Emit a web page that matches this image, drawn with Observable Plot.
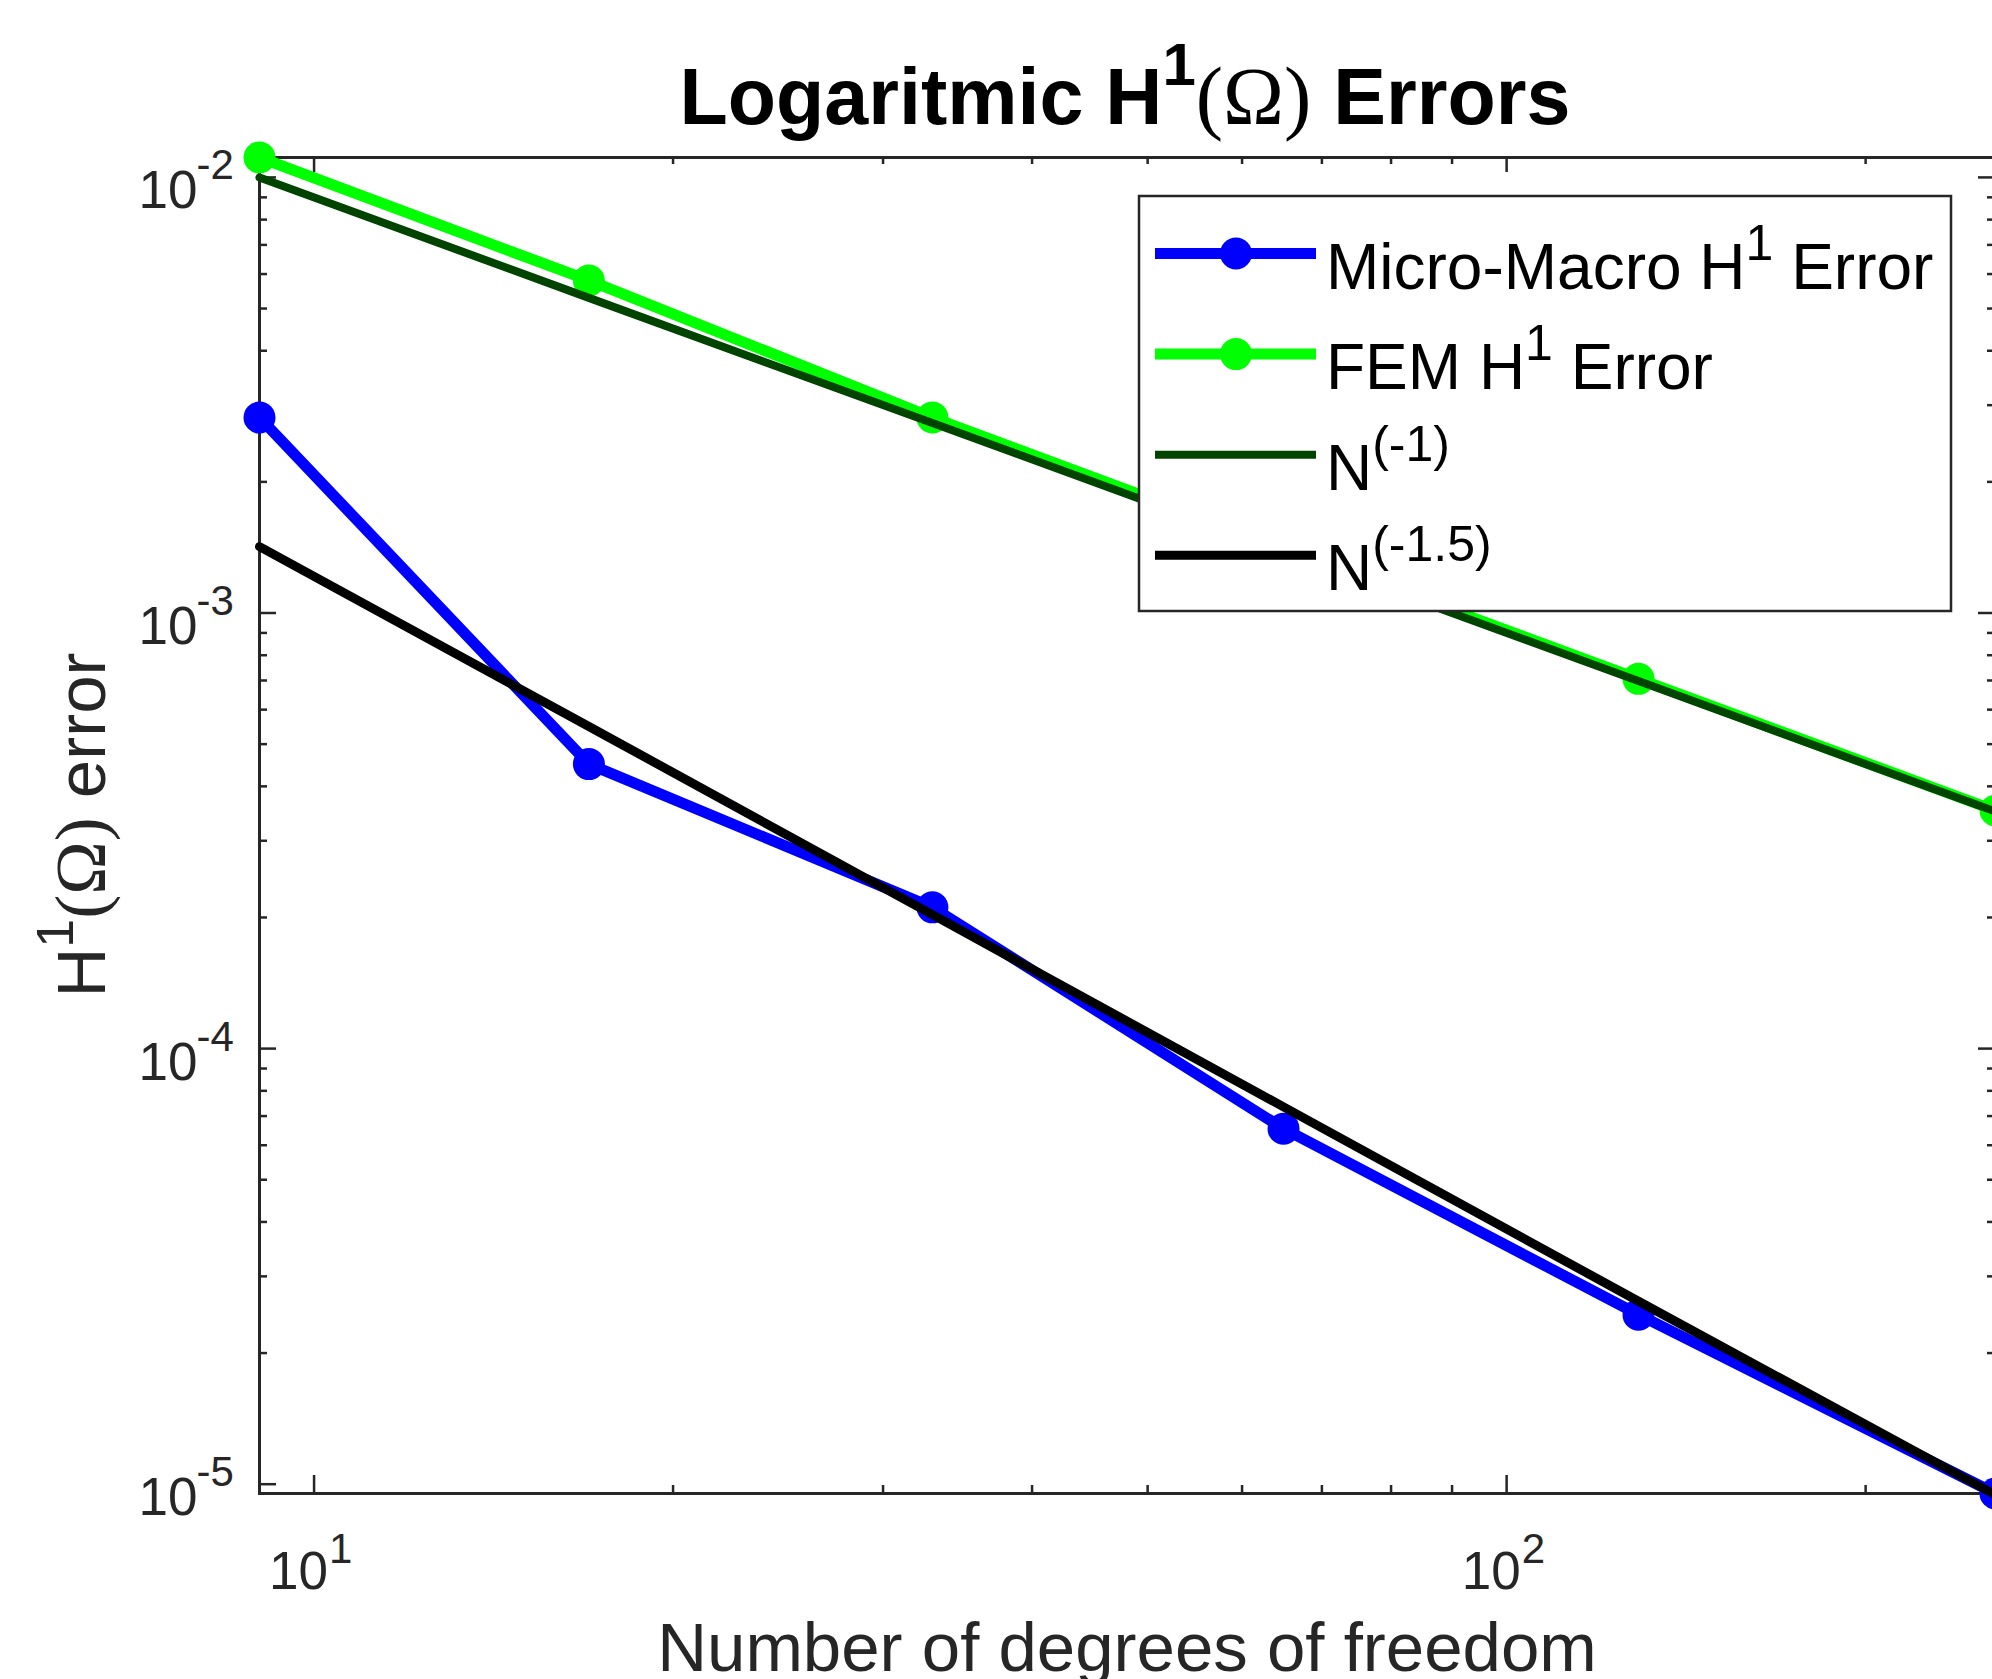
<!DOCTYPE html>
<html>
<head>
<meta charset="utf-8">
<script src="https://cdn.jsdelivr.net/npm/d3@7"></script>
<script src="https://cdn.jsdelivr.net/npm/@observablehq/plot@0.6"></script>
<style>
  html, body { margin: 0; padding: 0; background: #fff; overflow: hidden; }
  #chart svg { display: block; max-width: none; }
  text { white-space: pre; }
</style>
</head>
<body>
<div id="chart"></div>
<script>
// ---------------- data ----------------
const dof = [9, 17, 33, 65, 129, 257];
const microMacroError = [2.81e-3, 4.50e-4, 2.11e-4, 6.55e-5, 2.45e-5, 9.52e-6];
const femError        = [1.111e-2, 5.80e-3, 2.81e-3, 1.41e-3, 7.06e-4, 3.52e-4];
const refN1           = [1.00e-2, 5.29e-3, 2.73e-3, 1.385e-3, 6.98e-4, 3.50e-4];
const refN15          = [1.42e-3, 5.49e-4, 2.03e-4, 7.35e-5, 2.63e-5, 9.45e-6];

const seriesNames = ["Micro-Macro H^1 Error", "FEM H^1 Error", "N^(-1)", "N^(-1.5)"];

const xMajorTicks = [10, 100];
const xMajorExp   = ["1", "2"];
const xMinorTicks = [20, 30, 40, 50, 60, 70, 80, 90, 200];
const yMajorTicks = [1e-5, 1e-4, 1e-3, 1e-2];
const yMajorExp   = ["-5", "-4", "-3", "-2"];
const yMinorTicks = [2e-5, 3e-5, 4e-5, 5e-5, 6e-5, 7e-5, 8e-5, 9e-5,
                     2e-4, 3e-4, 4e-4, 5e-4, 6e-4, 7e-4, 8e-4, 9e-4,
                     2e-3, 3e-3, 4e-3, 5e-3, 6e-3, 7e-3, 8e-3, 9e-3];
const xDomain = [9, 257];
const yDomain = [9.52e-6, 1.111e-2];

// ---------------- layout / style ----------------
const W = 1995, H = 1679, ML = 259, MR = 0, MT = 157, MB = 186;
const innerW = W - ML - MR, innerH = H - MT - MB;
const SANS = "'Liberation Sans', Arial, Helvetica, sans-serif";
const SERIF = "'Liberation Serif', 'Times New Roman', serif";
const AXIS = "#262626";
const colors = ["#0000ff", "#00ff00", "#004400", "#000000"];
const widths = [11, 11, 8, 9];
const R = 16;

const rows = (vals) => dof.map((n, i) => ({n, v: vals[i]}));
const blueRows = rows(microMacroError);
const greenRows = rows(femError);
const n1Rows = rows(refN1);
const n15Rows = rows(refN15);

const tickStyle = {stroke: AXIS, strokeWidth: 2.5};

const chart = Plot.plot({
  width: W, height: H,
  marginLeft: ML, marginRight: MR, marginTop: MT, marginBottom: MB,
  x: {type: "log", domain: xDomain, axis: null},
  y: {type: "log", domain: yDomain, axis: null},
  style: {fontFamily: SANS, background: "#fff", overflow: "visible", maxWidth: "none"},
  marks: [
    Plot.frame({stroke: AXIS, strokeWidth: 3}),
    // inward ticks, bottom & top
    Plot.tickX(xMajorTicks, {x: d => d, ...tickStyle, insetTop: innerH - 18}),
    Plot.tickX(xMinorTicks, {x: d => d, ...tickStyle, insetTop: innerH - 8}),
    Plot.tickX(xMajorTicks, {x: d => d, ...tickStyle, insetBottom: innerH - 15}),
    Plot.tickX(xMinorTicks, {x: d => d, ...tickStyle, insetBottom: innerH - 7}),
    // inward ticks, left & right
    Plot.tickY(yMajorTicks, {y: d => d, ...tickStyle, insetRight: innerW - 17}),
    Plot.tickY(yMinorTicks, {y: d => d, ...tickStyle, insetRight: innerW - 8}),
    Plot.tickY(yMajorTicks, {y: d => d, ...tickStyle, insetLeft: innerW - 17}),
    Plot.tickY(yMinorTicks, {y: d => d, ...tickStyle, insetLeft: innerW - 8}),
    // data
    Plot.line(blueRows, {x: "n", y: "v", stroke: colors[0], strokeWidth: widths[0]}),
    Plot.dot(blueRows, {x: "n", y: "v", r: R, fill: colors[0]}),
    Plot.line(greenRows, {x: "n", y: "v", stroke: colors[1], strokeWidth: widths[1]}),
    Plot.dot(greenRows, {x: "n", y: "v", r: R, fill: colors[1]}),
    Plot.line(n1Rows, {x: "n", y: "v", stroke: colors[2], strokeWidth: widths[2]}),
    Plot.line(n15Rows, {x: "n", y: "v", stroke: colors[3], strokeWidth: widths[3]}),
    // y tick labels 10^k
    Plot.text(yMajorTicks, {y: d => d, frameAnchor: "left", text: () => "10", textAnchor: "end",
      lineAnchor: "bottom", dx: -62, dy: 31, fontSize: 53, fill: AXIS, fontFamily: SANS}),
    Plot.text(yMajorTicks, {y: d => d, frameAnchor: "left", text: (d, i) => yMajorExp[i], textAnchor: "start",
      lineAnchor: "bottom", dx: -63, dy: 2, fontSize: 42, fill: AXIS, fontFamily: SANS}),
    // x tick labels 10^k
    Plot.text(xMajorTicks, {x: d => d, frameAnchor: "bottom", text: () => "10", textAnchor: "end",
      lineAnchor: "bottom", dx: 14, dy: 95, fontSize: 53, fill: AXIS, fontFamily: SANS}),
    Plot.text(xMajorTicks, {x: d => d, frameAnchor: "bottom", text: (d, i) => xMajorExp[i], textAnchor: "start",
      lineAnchor: "bottom", dx: 15, dy: 69, fontSize: 42, fill: AXIS, fontFamily: SANS})
  ]
});
chart.style.maxWidth = "none";
document.getElementById("chart").appendChild(chart);

// ---------------- rich text helper (superscripts) ----------------
function richText(sel, str, {supSize, supDy, serifSize}) {
  const re = /(\^\([^)]*\)|\^\S|\(Ω\))/g;
  let last = 0, m, shift = 0;
  const push = (t, opts) => {
    const ts = sel.append("tspan").text(t);
    if (opts.size) ts.attr("font-size", opts.size);
    if (opts.family) ts.attr("font-family", opts.family);
    if (opts.weight) ts.attr("font-weight", opts.weight);
    const dy = (opts.level || 0) - shift;
    if (dy !== 0) ts.attr("dy", dy);
    shift = opts.level || 0;
  };
  while ((m = re.exec(str))) {
    if (m.index > last) push(str.slice(last, m.index), {});
    const tok = m[0];
    if (tok.startsWith("^")) push(tok.slice(1), {size: supSize, level: -supDy});
    else push(tok, {size: serifSize, family: SERIF, weight: "normal"});
    last = m.index + tok.length;
  }
  if (last < str.length) push(str.slice(last), {});
}

const svg = d3.select(chart);

// title
const title = svg.append("text")
  .attr("x", 1125).attr("y", 124).attr("text-anchor", "middle")
  .attr("font-family", SANS).attr("font-weight", "bold").attr("font-size", 79).attr("fill", "#000");
richText(title, "Logaritmic H^1(Ω) Errors", {supSize: 60, supDy: 39, serifSize: 82});

// x label
svg.append("text")
  .attr("x", 1127).attr("y", 1671).attr("text-anchor", "middle")
  .attr("font-family", SANS).attr("font-size", 69).attr("fill", AXIS)
  .text("Number of degrees of freedom");

// y label
const ylab = svg.append("text")
  .attr("transform", "translate(105,825) rotate(-90)").attr("text-anchor", "middle")
  .attr("font-family", SANS).attr("font-size", 69).attr("fill", AXIS);
richText(ylab, "H^1(Ω) error", {supSize: 52, supDy: 32, serifSize: 72});

// legend
const lg = svg.append("g");
lg.append("rect").attr("x", 1139).attr("y", 196).attr("width", 812).attr("height", 415)
  .attr("fill", "#fff").attr("stroke", AXIS).attr("stroke-width", 2.5);
seriesNames.forEach((name, i) => {
  const cy = 253.5 + i * 100.6;
  lg.append("line").attr("x1", 1155).attr("x2", 1316).attr("y1", cy).attr("y2", cy)
    .attr("stroke", colors[i]).attr("stroke-width", widths[i]);
  if (i < 2) lg.append("circle").attr("cx", 1236).attr("cy", cy).attr("r", R).attr("fill", colors[i]);
  const t = lg.append("text").attr("x", 1326).attr("y", cy + 35).attr("text-anchor", "start")
    .attr("font-family", SANS).attr("font-size", 64).attr("fill", "#000");
  richText(t, name, {supSize: 50, supDy: 29, serifSize: 64});
});
</script>
</body>
</html>
